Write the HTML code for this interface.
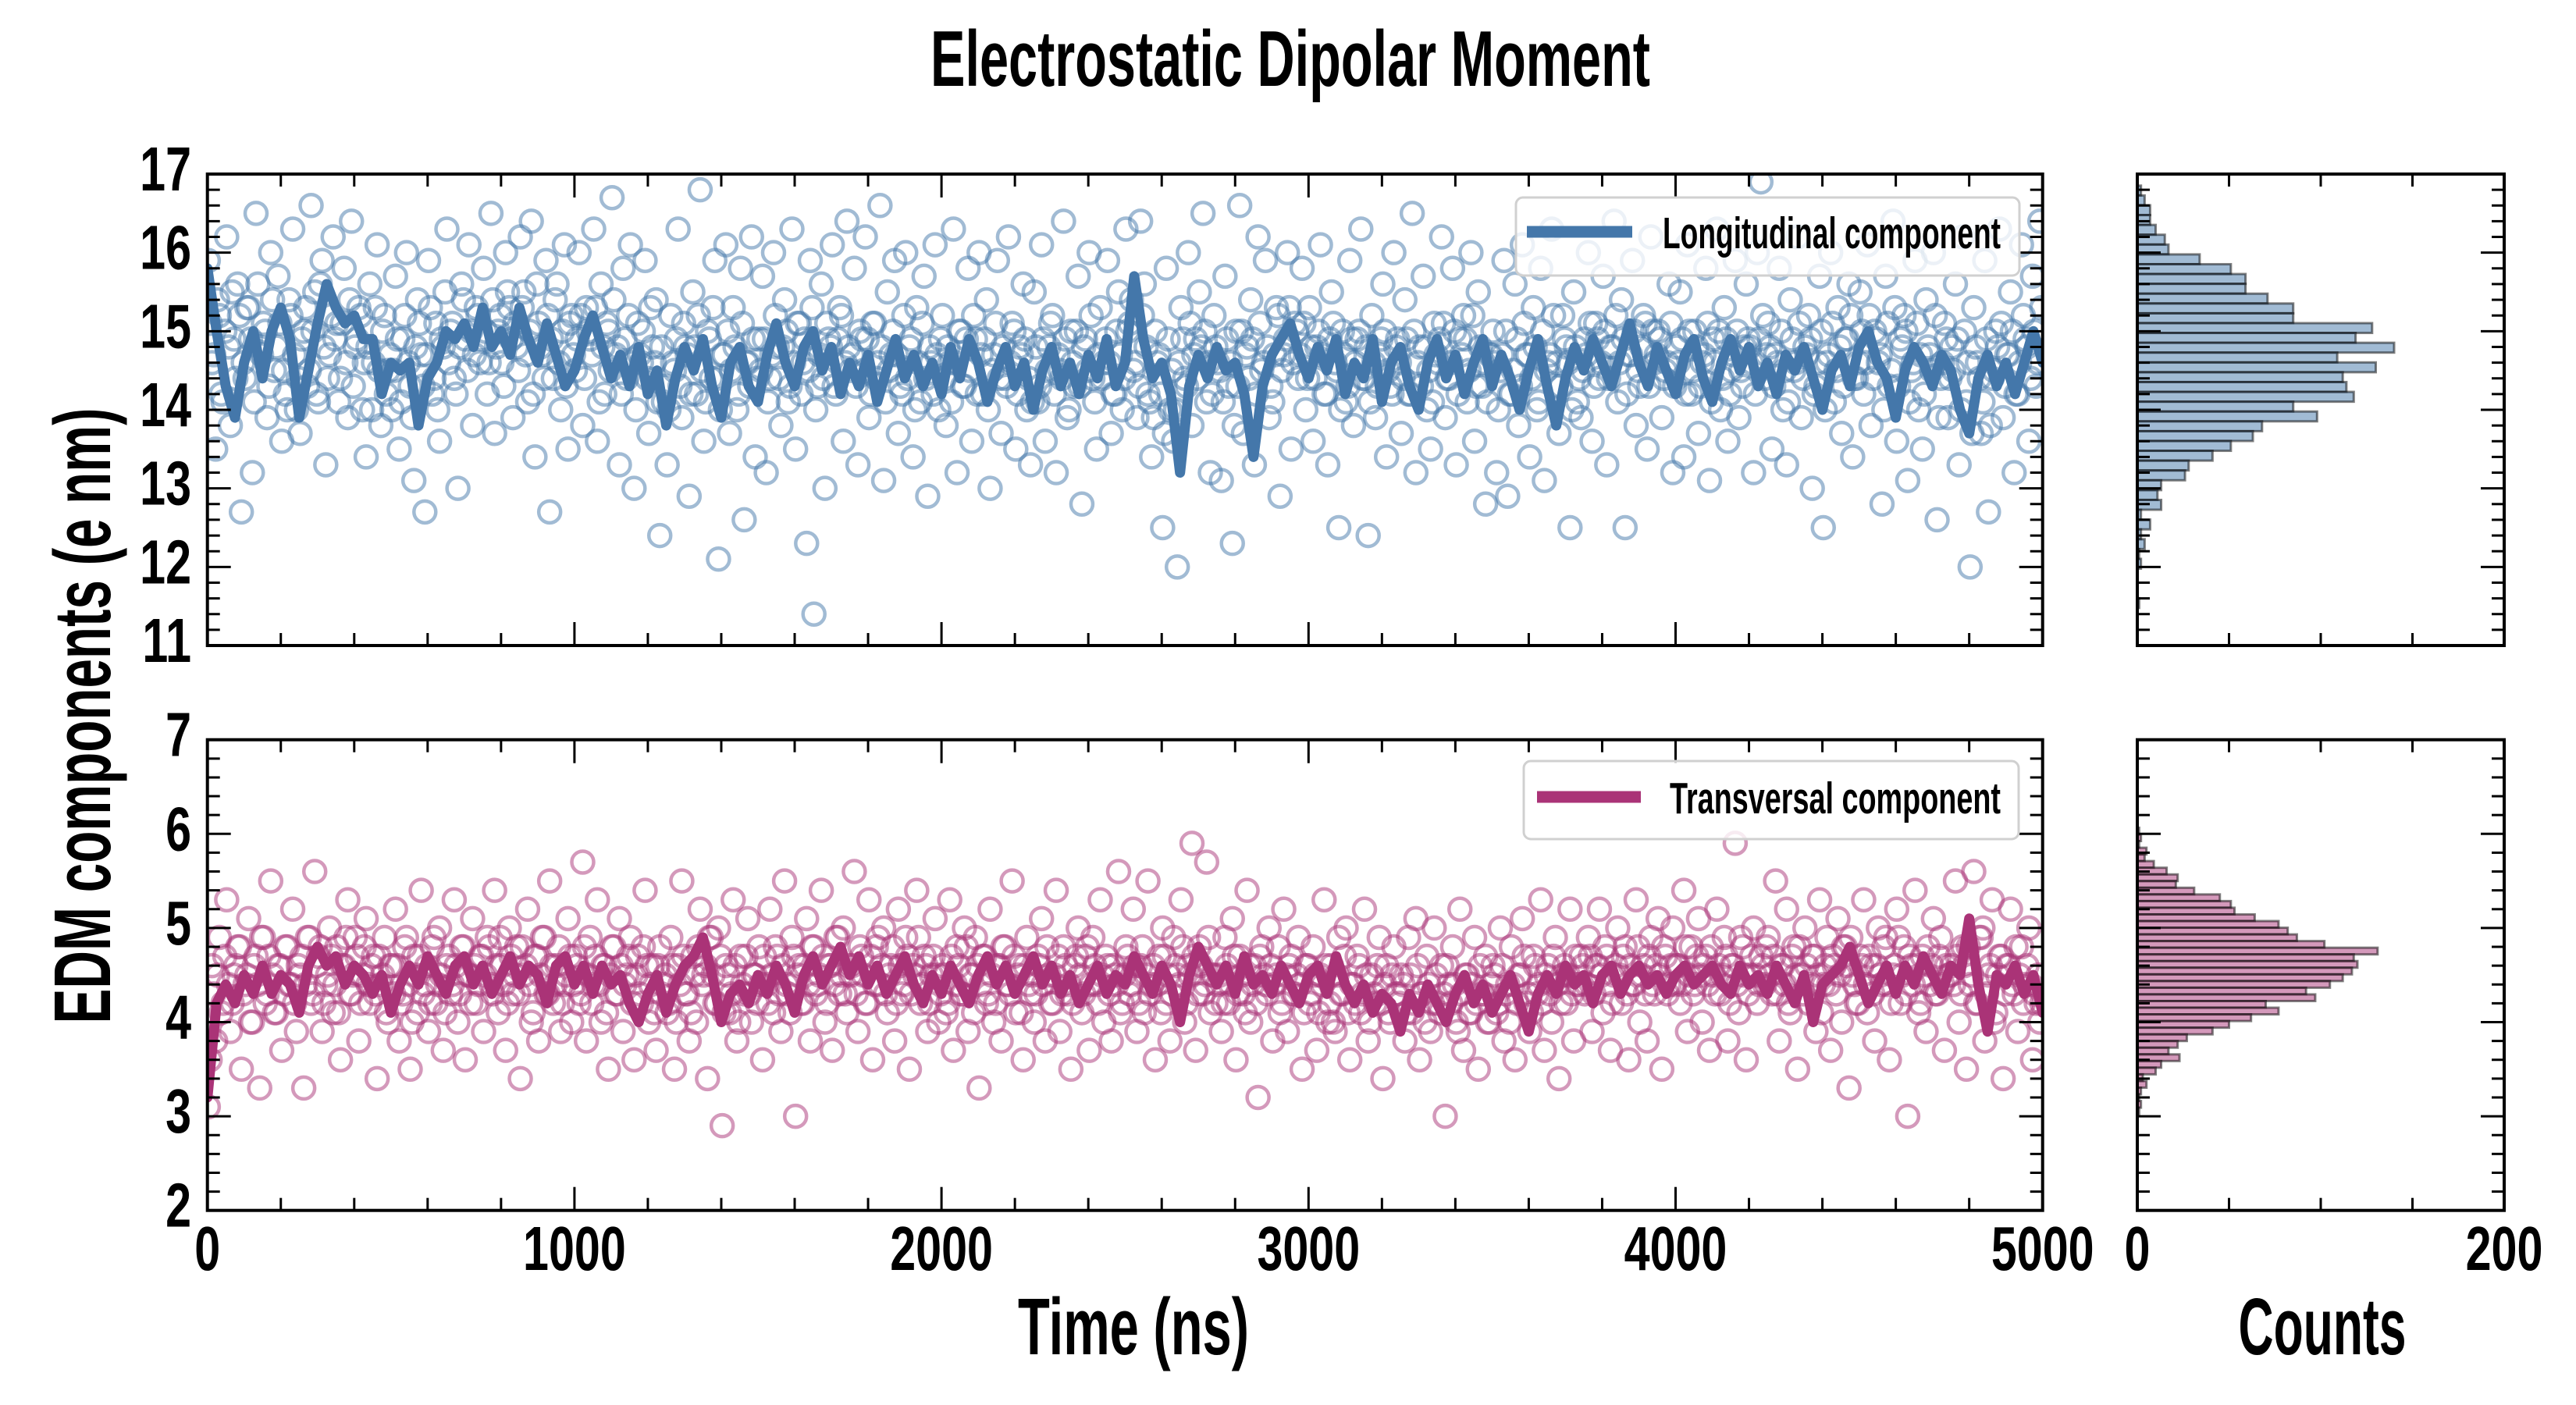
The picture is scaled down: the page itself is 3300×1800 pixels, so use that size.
<!DOCTYPE html>
<html><head><meta charset="utf-8"><title>Electrostatic Dipolar Moment</title>
<style>html,body{margin:0;padding:0;background:#fff;}svg{display:block;}</style>
</head><body>
<svg id="chart" xmlns="http://www.w3.org/2000/svg" width="3300" height="1800" viewBox="0 0 3300 1800">
<defs>
<clipPath id="clipTop"><rect x="265.7" y="223" width="2351" height="604"/></clipPath>
<clipPath id="clipBot"><rect x="265.7" y="947.7" width="2351" height="603"/></clipPath>
</defs>
<rect x="0" y="0" width="3300" height="1800" fill="#fff"/>
<text x="1653" y="110" text-anchor="middle" font-family="'Liberation Sans Narrow','Liberation Sans',sans-serif" font-weight="bold" font-size="101" textLength="922" lengthAdjust="spacingAndGlyphs">Electrostatic Dipolar Moment</text>
<text x="1452" y="1735" text-anchor="middle" font-family="'Liberation Sans Narrow','Liberation Sans',sans-serif" font-weight="bold" font-size="103" textLength="296" lengthAdjust="spacingAndGlyphs">Time (ns)</text>
<text x="2975" y="1735" text-anchor="middle" font-family="'Liberation Sans Narrow','Liberation Sans',sans-serif" font-weight="bold" font-size="103" textLength="215" lengthAdjust="spacingAndGlyphs">Counts</text>
<text transform="translate(141,917) rotate(-90)" text-anchor="middle" font-family="'Liberation Sans Narrow','Liberation Sans',sans-serif" font-weight="bold" font-size="103" textLength="789" lengthAdjust="spacingAndGlyphs">EDM components (e nm)</text>
<g id="layer"></g>
</svg>
<script>
// ---- data ----
const longLine=[15.8,15.0,14.3,13.9,14.6,15.0,14.4,15.0,15.3,14.9,13.9,14.5,15.1,15.6,15.3,15.1,15.2,14.9,14.9,14.2,14.6,14.5,14.6,13.8,14.4,14.6,15.0,14.9,15.1,14.8,15.3,14.8,15.0,14.7,15.3,14.9,14.6,15.1,14.7,14.3,14.5,14.9,15.2,14.8,14.4,14.7,14.3,14.8,14.2,14.5,13.8,14.4,14.8,14.5,14.9,14.3,13.9,14.6,14.8,14.3,14.1,14.7,15.1,14.6,14.3,14.8,15.0,14.5,14.8,14.2,14.6,14.3,14.7,14.1,14.5,14.9,14.4,14.7,14.3,14.6,14.2,14.8,14.4,14.9,14.6,14.1,14.5,14.8,14.3,14.6,14.0,14.5,14.8,14.3,14.6,14.2,14.7,14.4,14.9,14.3,14.6,15.7,14.9,14.4,14.6,14.2,13.2,14.3,14.7,14.4,14.8,14.5,14.6,14.2,13.4,14.3,14.7,14.9,15.1,14.7,14.4,14.8,14.5,14.9,14.2,14.6,14.4,14.9,14.1,14.6,14.8,14.3,14.0,14.6,14.9,14.4,14.7,14.2,14.6,14.9,14.3,14.7,14.4,14.0,14.5,14.9,14.3,13.8,14.4,14.8,14.5,14.9,14.6,14.3,14.7,15.1,14.6,14.3,14.8,14.5,14.2,14.7,14.9,14.4,14.1,14.6,14.9,14.5,14.8,14.3,14.6,14.2,14.7,14.5,14.8,14.4,14.0,14.5,14.7,14.3,14.8,15.0,14.6,14.4,13.9,14.5,14.8,14.6,14.3,14.7,14.5,14.0,13.7,14.4,14.7,14.3,14.6,14.2,14.6,15.0,14.6];
const transLine=[3.2,4.2,4.4,4.2,4.5,4.3,4.6,4.3,4.5,4.4,4.1,4.6,4.8,4.6,4.7,4.4,4.6,4.5,4.3,4.5,4.1,4.4,4.6,4.4,4.7,4.5,4.3,4.6,4.7,4.4,4.6,4.3,4.5,4.7,4.4,4.6,4.5,4.2,4.6,4.7,4.4,4.6,4.3,4.6,4.4,4.5,4.2,4.0,4.3,4.5,4.1,4.4,4.6,4.7,4.9,4.5,4.0,4.3,4.4,4.2,4.5,4.3,4.6,4.4,4.1,4.5,4.7,4.4,4.6,4.8,4.5,4.7,4.4,4.6,4.3,4.5,4.7,4.4,4.2,4.5,4.3,4.6,4.4,4.2,4.5,4.7,4.4,4.6,4.3,4.5,4.7,4.4,4.6,4.3,4.5,4.2,4.4,4.6,4.3,4.5,4.4,4.7,4.5,4.3,4.6,4.4,4.0,4.5,4.8,4.6,4.4,4.6,4.3,4.7,4.4,4.5,4.3,4.6,4.4,4.2,4.5,4.6,4.3,4.7,4.4,4.2,4.4,4.1,4.3,4.2,3.9,4.3,4.1,4.4,4.2,4.0,4.3,4.5,4.2,4.4,4.1,4.3,4.5,4.2,3.9,4.3,4.5,4.3,4.6,4.4,4.5,4.2,4.5,4.6,4.3,4.5,4.6,4.4,4.5,4.3,4.5,4.6,4.4,4.5,4.6,4.4,4.3,4.6,4.4,4.5,4.3,4.6,4.4,4.2,4.5,4.0,4.4,4.5,4.6,4.8,4.5,4.2,4.4,4.6,4.3,4.6,4.4,4.7,4.5,4.3,4.6,4.5,5.1,4.4,3.9,4.5,4.4,4.6,4.3,4.5,4.1];
const longPts=[15.9,14.6,13.5,15.2,14.1,16.2,13.8,14.9,15.6,12.7,14.4,15.3,13.2,16.5,14.8,15.1,13.9,16.0,14.5,15.7,13.6,14.2,15.4,16.3,14.0,
13.7,15.0,14.3,16.6,15.5,14.1,15.9,13.3,14.7,16.2,15.1,14.4,15.8,13.9,16.4,14.8,15.3,14.0,13.4,15.6,14.6,16.1,13.8,15.2,14.5,
14.0,15.7,13.5,14.9,16.0,14.3,13.1,15.4,14.7,12.7,15.9,14.2,15.1,13.6,14.8,16.3,15.0,14.4,13.0,15.6,14.9,16.1,13.8,15.3,14.6,
15.8,14.2,16.5,13.7,15.0,14.6,16.0,15.3,13.9,14.8,16.2,15.5,14.1,16.4,13.4,15.1,14.7,15.9,12.7,14.4,15.6,14.0,16.1,13.5,15.2,
14.5,16.0,13.8,15.3,14.9,16.3,13.6,15.6,14.2,15.0,16.7,14.7,13.3,15.8,14.4,16.1,13.0,15.1,14.6,15.9,13.7,14.8,15.4,12.4,14.1,
13.3,15.2,14.5,16.3,13.9,14.8,12.9,15.5,14.2,16.8,13.6,15.0,14.4,15.9,12.1,14.7,16.1,13.7,15.3,14.0,15.8,12.6,14.6,16.2,13.4,
14.9,15.7,13.2,14.4,16.0,14.8,13.8,15.4,14.1,16.3,13.5,15.1,14.6,12.3,15.9,11.4,14.3,15.6,13.0,14.9,16.1,14.2,15.3,13.6,16.4,
14.5,15.8,13.3,14.9,16.2,13.9,15.1,14.4,16.6,13.1,15.5,14.7,15.9,13.7,14.2,16.0,14.8,13.4,15.3,14.1,15.7,12.9,14.6,16.1,14.0,
15.2,13.8,14.6,16.3,13.2,15.0,14.3,15.8,13.6,14.9,16.0,14.2,15.4,13.0,14.7,15.9,13.7,14.4,16.2,15.1,13.5,14.8,15.6,14.0,13.3,
15.5,14.1,16.1,13.6,14.8,15.2,13.2,14.5,16.4,13.9,15.0,14.3,15.7,12.8,14.9,16.0,14.4,13.5,15.3,14.6,15.9,13.7,14.2,15.5,14.0,
16.3,15.1,14.5,13.9,16.4,15.6,14.2,13.4,15.0,14.7,12.5,15.8,14.0,13.6,12.0,15.3,14.4,16.0,13.8,14.9,15.5,16.5,14.1,13.2,15.2,
14.6,13.1,15.7,14.3,12.3,15.0,16.6,13.7,14.8,15.4,13.3,16.2,14.5,15.9,13.9,14.1,15.3,12.9,14.7,16.0,13.5,15.1,14.4,15.8,14.0,
15.3,13.6,14.8,16.1,14.2,13.3,15.5,14.6,12.5,15.0,14.1,15.9,13.8,14.9,16.3,14.4,12.4,15.2,13.9,14.7,15.6,13.4,14.3,16.0,14.9,
13.7,15.4,14.2,16.5,13.2,14.8,15.7,14.0,13.5,15.1,14.6,16.2,13.9,14.4,15.8,13.3,14.9,15.2,14.1,16.0,13.6,15.5,14.3,12.8,14.7,
15.0,13.2,14.5,15.9,12.9,14.2,15.6,13.8,16.1,14.7,13.4,15.3,14.0,15.8,13.1,14.6,16.3,14.3,13.7,15.2,14.8,12.5,15.5,14.1,13.9,
14.9,16.0,13.6,15.1,14.4,15.7,13.3,14.8,16.4,14.1,15.4,12.5,14.7,15.9,13.8,14.3,15.2,13.5,16.2,14.6,15.0,13.9,14.5,15.6,13.2,
14.8,15.5,13.4,16.1,14.2,15.0,13.7,14.6,15.8,13.1,14.9,16.3,14.0,15.3,13.6,14.5,15.9,13.9,14.3,15.6,14.8,13.2,16.0,16.9,14.4,
15.1,13.5,14.7,15.8,14.0,13.3,15.4,14.5,16.2,13.9,14.8,15.2,13.0,14.3,15.7,12.5,14.6,16.0,14.1,15.3,13.7,14.9,15.6,13.4,14.4,
15.5,14.2,16.1,13.8,15.0,14.6,12.8,15.7,14.3,16.4,13.6,14.9,15.2,13.1,14.5,15.9,14.0,13.5,15.4,14.7,16.0,12.6,14.4,15.1,13.9,
14.8,15.6,13.3,16.2,14.1,12.0,15.3,14.6,13.7,15.9,12.7,14.4,15.0,16.3,13.9,14.7,15.5,13.2,14.2,16.1,14.9,13.6,15.7,14.3,16.4];
const longPts2=[15.1,14.7,15.4,14.2,15.0,14.8,15.5,14.4,15.2,14.6,15.3,14.9,14.1,15.6,14.7,15.0,14.3,15.4,14.8,15.1,14.5,14.0,15.2,14.7,14.4,
14.9,15.3,14.5,15.0,14.2,15.6,14.8,14.4,15.2,14.9,14.1,15.1,14.6,15.4,14.3,14.9,15.2,14.6,14.8,14.0,15.3,14.5,15.0,14.2,14.7,
14.5,14.9,14.1,15.2,14.6,13.9,14.8,15.1,14.3,14.7,15.3,14.4,14.0,14.9,15.5,14.6,15.1,14.2,14.8,15.4,14.5,15.0,14.7,15.2,14.9,
15.0,14.6,15.4,14.8,15.2,14.3,15.5,14.9,15.1,14.5,15.3,14.7,15.0,14.2,15.6,14.8,14.4,15.2,14.9,15.4,14.6,15.0,14.3,15.1,14.7,
14.9,15.2,14.4,15.0,14.7,15.3,14.1,14.8,15.1,14.5,15.4,14.8,14.2,14.9,15.2,14.6,14.0,14.7,15.0,14.4,15.3,14.6,14.1,14.8,14.3,
14.0,14.6,14.9,14.3,15.1,14.7,14.2,14.8,15.2,14.5,14.1,14.9,15.3,14.4,14.0,14.7,15.0,14.5,14.8,14.2,15.1,14.6,14.3,14.9,14.4,
14.5,14.9,14.1,14.7,15.2,14.4,14.8,15.0,14.3,14.6,15.1,14.2,14.9,14.5,15.3,14.0,14.7,14.4,15.1,14.8,14.3,14.9,15.2,14.6,14.8,
14.7,14.3,15.0,14.5,14.9,14.2,15.1,14.6,14.8,14.1,14.5,15.0,14.7,14.3,15.2,14.4,14.9,14.0,14.6,15.1,14.4,14.8,14.2,14.7,14.9,
14.4,14.8,14.1,14.6,15.0,14.3,14.9,14.5,15.2,14.2,14.7,14.9,14.0,14.5,15.1,14.4,14.8,14.3,14.6,15.0,14.2,14.7,14.9,14.4,14.1,
14.8,14.3,14.9,14.5,15.1,14.2,14.7,14.4,14.9,14.0,14.6,15.0,14.3,14.8,14.5,15.2,14.1,14.7,14.4,14.9,14.6,14.2,15.0,14.7,14.4,
15.0,15.4,14.6,14.3,15.2,14.8,14.1,13.9,14.6,14.2,13.7,14.9,14.5,14.0,14.6,14.9,14.3,15.1,14.7,14.4,14.8,15.0,14.6,14.2,14.8,
14.5,14.1,14.9,14.6,13.8,14.3,15.0,14.7,14.4,14.9,14.2,15.1,14.6,14.8,14.3,14.7,15.2,14.5,14.9,15.3,14.6,15.0,14.7,15.1,14.4,
14.8,14.4,15.0,14.7,14.2,14.9,15.1,14.5,14.0,14.7,14.3,14.9,14.6,15.0,14.4,14.8,14.1,14.6,14.3,14.9,15.0,14.5,14.2,14.8,14.6,
14.4,14.9,14.2,15.0,14.6,14.3,14.8,14.5,14.1,14.7,14.9,15.1,14.4,14.6,15.0,14.2,14.7,14.9,14.5,15.2,14.3,14.8,14.6,14.1,14.7,
14.6,14.0,14.7,15.0,14.2,14.5,14.9,14.3,15.1,14.7,14.4,14.8,14.1,15.0,14.5,14.7,15.2,14.6,14.3,14.9,14.6,14.0,14.8,14.4,14.5,
14.7,15.1,14.3,14.9,14.6,15.0,14.4,14.8,15.2,14.6,14.9,14.2,14.7,15.0,14.5,14.8,15.1,14.3,15.0,14.7,14.9,14.4,14.6,15.1,14.3,
14.6,14.9,14.2,15.0,14.5,14.8,14.3,14.7,15.1,14.1,14.6,15.0,14.4,14.9,14.2,14.7,15.0,14.5,14.8,14.9,14.6,14.2,14.9,15.2,14.7,
14.8,14.3,14.6,15.0,14.5,14.1,14.9,14.6,15.1,14.4,14.7,14.9,14.2,14.6,15.0,14.0,14.7,15.1,14.5,14.8,14.3,14.9,15.2,14.4,14.6,
15.0,14.6,15.2,14.4,14.9,14.7,14.0,15.1,14.5,15.3,14.3,14.8,15.0,14.1,14.6,15.1,14.7,14.2,14.8,14.5,15.2,13.9,14.6,14.9,14.4,
14.5,14.9,14.0,15.0,14.6,13.7,14.8,14.4,14.1,14.9,13.8,14.5,14.8,15.1,14.3,14.7,15.0,14.2,14.6,15.2,14.8,14.4,15.0,14.6,15.3];
const transPts=[3.1,4.6,3.8,4.9,4.2,5.3,3.9,4.5,4.8,3.5,4.4,5.1,4.0,4.7,3.3,4.9,4.3,5.5,4.1,4.6,3.7,4.8,4.4,5.2,3.9,
4.5,3.3,4.9,4.2,5.6,4.7,3.9,4.4,5.0,4.1,4.8,3.6,4.6,5.3,4.3,4.9,3.8,4.5,5.1,4.2,4.7,3.4,4.4,4.9,4.0,
4.6,5.2,3.8,4.3,4.9,3.5,4.7,4.1,5.4,4.4,3.9,4.8,4.2,5.0,3.7,4.6,4.3,5.3,4.0,4.8,3.6,4.5,5.1,4.2,4.7,
3.9,4.9,4.4,5.4,4.1,4.6,3.7,5.0,4.3,4.8,3.4,4.5,5.2,4.0,4.7,3.8,4.9,4.3,5.5,4.2,4.6,3.9,4.4,5.1,4.0,
4.7,4.2,5.7,3.8,4.9,4.4,5.3,4.0,4.6,3.5,4.8,4.3,5.1,3.9,4.5,4.9,3.6,4.7,4.2,5.4,4.0,4.6,3.7,4.8,4.4,
4.1,4.9,3.5,4.6,5.5,4.3,3.8,4.7,4.0,5.2,4.5,3.4,4.9,4.2,5.0,2.9,4.6,4.1,5.3,3.8,4.7,4.3,5.1,4.0,4.5,
4.8,3.6,4.4,5.2,4.1,4.7,3.9,5.5,4.3,4.9,3.0,4.6,4.2,5.1,3.8,4.8,4.4,5.4,4.0,4.6,3.7,4.9,4.3,5.0,4.1,
4.5,5.6,3.9,4.7,4.2,5.3,3.6,4.8,4.4,5.0,4.1,4.6,3.8,5.2,4.3,4.9,3.5,4.6,5.4,4.2,4.7,3.9,4.5,5.1,4.0,
4.6,4.1,5.3,3.7,4.8,4.3,5.0,3.9,4.5,4.9,3.3,4.7,4.2,5.2,4.0,4.6,3.8,4.8,4.4,5.5,4.1,4.6,3.6,4.9,4.3,
4.0,4.7,5.1,3.8,4.5,4.2,5.4,3.9,4.8,4.3,3.5,4.6,5.0,4.1,4.7,3.7,4.9,4.4,5.3,4.0,4.6,3.8,4.5,5.6,4.2,
4.8,4.3,5.2,3.9,4.6,4.1,5.5,4.4,3.6,4.7,5.0,4.2,3.8,4.9,4.5,5.3,4.0,4.6,5.9,3.7,4.8,4.3,5.7,4.1,4.5,
4.4,3.9,4.9,4.2,5.1,3.6,4.7,4.3,5.4,4.0,4.6,3.2,4.8,4.4,5.0,3.8,4.5,4.1,5.2,3.9,4.7,4.3,4.9,3.5,4.6,
4.2,4.8,3.7,4.5,5.3,4.0,4.6,3.9,4.9,4.3,5.0,3.6,4.4,4.7,4.1,5.2,3.8,4.5,4.2,4.9,3.4,4.6,4.0,4.8,4.3,
4.5,3.8,4.9,4.1,5.1,3.6,4.3,4.7,3.9,5.0,4.2,4.6,3.0,4.4,4.8,4.0,5.2,3.7,4.5,4.1,4.9,3.5,4.3,4.7,4.0,
4.6,4.1,5.0,3.8,4.4,4.8,3.6,4.5,5.1,4.2,3.9,4.7,4.3,5.3,3.7,4.6,4.0,4.9,3.4,4.5,4.2,5.2,3.8,4.4,4.7,
4.3,4.9,3.9,4.6,5.2,4.1,4.7,3.7,4.5,5.0,4.2,4.8,3.6,4.4,5.3,4.0,4.6,3.8,4.9,4.3,5.1,3.5,4.7,4.4,5.0,
4.6,4.2,5.4,3.9,4.8,4.4,5.1,4.0,4.7,3.7,4.5,5.2,4.3,4.9,3.8,4.6,5.9,4.1,4.8,3.6,4.5,5.0,4.2,4.7,4.4,
4.9,4.3,5.5,3.8,4.6,5.2,4.1,4.8,3.5,4.5,5.0,4.2,4.7,3.9,5.3,4.4,4.9,3.7,4.6,5.1,4.0,4.8,3.3,4.5,4.2,
4.7,5.3,4.1,4.6,3.8,5.0,4.4,4.9,3.6,4.5,5.2,4.2,4.8,3.0,4.6,5.4,4.1,4.7,3.9,4.4,5.1,4.3,4.9,3.7,4.5,
4.6,5.5,4.0,4.8,3.5,4.4,5.6,4.2,4.9,3.8,4.5,5.3,4.1,4.7,3.4,4.6,5.2,4.3,3.9,4.8,4.4,5.0,3.6,4.2,4.0];
const transPts2=[3.6,4.3,4.5,4.1,4.7,4.4,4.2,4.6,4.8,4.3,4.5,4.0,4.6,4.4,4.9,4.2,4.7,4.5,4.1,4.6,4.3,4.8,4.4,4.2,4.6,
4.7,4.4,4.9,4.3,4.6,4.8,4.2,4.5,4.7,4.4,4.1,4.6,4.9,4.3,4.5,4.7,4.2,4.8,4.4,4.6,4.3,4.7,4.5,4.1,4.6,
4.3,4.6,4.2,4.8,4.4,4.0,4.5,4.7,4.3,4.6,4.2,4.9,4.4,4.5,4.1,4.7,4.4,4.6,4.3,4.8,4.5,4.2,4.6,4.4,4.7,
4.5,4.8,4.3,4.6,4.9,4.4,4.2,4.7,4.5,4.3,4.8,4.6,4.4,4.1,4.7,4.5,4.9,4.3,4.6,4.4,4.8,4.2,4.5,4.7,4.4,
4.6,4.3,4.8,4.5,4.2,4.7,4.4,4.6,4.1,4.5,4.8,4.3,4.6,4.4,4.7,4.2,4.5,4.3,4.8,4.6,4.4,4.1,4.6,4.3,4.5,
4.2,4.6,4.0,4.4,4.7,4.3,4.1,4.5,4.8,4.4,4.6,4.9,4.5,4.2,4.7,4.1,4.5,4.3,4.6,4.0,4.4,4.7,4.3,4.5,4.2,
4.4,4.7,4.2,4.5,4.8,4.3,4.6,4.4,4.1,4.7,4.5,4.2,4.6,4.4,4.8,4.3,4.5,4.7,4.2,4.6,4.4,4.9,4.5,4.3,4.6,
4.6,4.3,4.8,4.5,4.2,4.7,4.4,4.9,4.6,4.3,4.5,4.8,4.2,4.6,4.4,4.7,4.3,4.5,4.9,4.4,4.6,4.2,4.7,4.5,4.3,
4.5,4.2,4.7,4.4,4.6,4.3,4.8,4.5,4.1,4.6,4.4,4.7,4.3,4.5,4.2,4.6,4.8,4.4,4.3,4.7,4.5,4.1,4.6,4.4,4.5,
4.3,4.6,4.4,4.8,4.2,4.5,4.7,4.3,4.6,4.4,4.2,4.7,4.5,4.3,4.8,4.4,4.6,4.2,4.5,4.7,4.3,4.6,4.4,4.1,4.5,
4.7,4.4,4.6,4.2,4.8,4.5,4.3,4.6,4.4,4.1,4.7,4.5,4.3,4.6,4.4,4.8,4.2,4.5,4.7,4.3,4.6,4.4,4.9,4.5,4.2,
4.5,4.2,4.6,4.4,4.7,4.3,4.5,4.1,4.6,4.4,4.2,4.7,4.5,4.3,4.6,4.4,4.8,4.2,4.5,4.6,4.3,4.5,4.4,4.1,4.6,
4.3,4.5,4.1,4.4,4.6,4.2,4.0,4.5,4.3,4.7,4.1,4.4,4.2,4.6,4.3,4.5,4.0,4.3,4.6,4.2,4.4,4.1,4.5,4.3,4.2,
4.4,4.1,4.5,4.2,4.6,4.3,4.0,4.4,4.2,4.5,4.1,4.3,4.6,4.2,4.4,3.9,4.3,4.5,4.1,4.4,4.2,4.6,4.3,4.0,4.4,
4.5,4.2,4.6,4.3,4.0,4.4,4.2,4.5,4.7,4.3,4.1,4.6,4.4,4.2,4.5,4.3,4.7,4.4,4.2,4.6,4.5,4.3,4.7,4.4,4.6,
4.4,4.7,4.3,4.6,4.5,4.8,4.4,4.2,4.6,4.5,4.7,4.3,4.6,4.4,4.8,4.5,4.3,4.7,4.4,4.6,4.5,4.8,4.3,4.6,4.4,
4.6,4.4,4.8,4.5,4.3,4.7,4.5,4.6,4.4,4.8,4.3,4.6,4.5,4.7,4.2,4.6,4.4,4.9,4.5,4.3,4.7,4.5,4.4,4.6,4.8,
4.5,4.7,4.3,4.6,4.4,4.2,4.7,4.5,4.8,4.3,4.6,4.4,4.7,4.5,4.1,4.6,4.4,4.7,4.3,4.5,4.8,4.6,4.9,4.4,4.2,
4.6,4.4,4.7,4.3,4.6,4.5,4.8,4.4,4.2,4.6,4.9,4.5,4.3,4.7,4.4,4.6,4.2,4.5,4.8,4.6,4.3,4.7,4.4,4.6,4.5,
4.4,4.7,4.3,4.6,4.8,4.5,4.2,4.9,5.0,4.3,4.6,4.0,4.5,4.7,4.3,4.6,4.4,4.8,4.5,4.2,4.6,4.4,4.3,4.5,4.2];
const longHist=[2,4,7,7,10,15,17,34,51,59,59,71,85,85,128,119,140,109,130,112,114,118,85,98,68,63,51,41,28,26,13,11,13,2,7,2,4,1,2,0,0,0,1];
const transHist=[1,2,1,5,4,9,16,22,21,31,45,51,53,64,77,82,87,102,131,118,120,117,112,105,92,97,70,77,62,50,41,27,22,17,23,13,10,3,5,2,1,2,1];
const longHistTop=16.853, longBinW=0.125;
const transHistTop=6.065, transBinW=0.0708;
const timeMax=5000;
const xTickLabels=["0","1000","2000","3000","4000","5000"];
const topYTicks=["11","12","13","14","15","16","17"];
const botYTicks=["2","3","4","5","6","7"];
const histTickLabels=["0","200"];

// ---- layout ----
const NS="http://www.w3.org/2000/svg";
const FONT="'Liberation Sans Narrow','Liberation Sans',sans-serif";
const AX={x0:265.7,x1:2616.7};
const HX={x0:2738,x1:3208,max:200};
const P={top:{y0:223,y1:827,lo:11,hi:17},bot:{y0:947.7,y1:1550.7,lo:2,hi:7}};
const layer=document.getElementById('layer');
function mk(tag,attrs,parent){const e=document.createElementNS(NS,tag);for(const k in attrs)e.setAttribute(k,attrs[k]);(parent||layer).appendChild(e);return e;}
const xT=t=>AX.x0+(t/timeMax)*(AX.x1-AX.x0);
const yV=(p,v)=>p.y1-(v-p.lo)/(p.hi-p.lo)*(p.y1-p.y0);
const xC=c=>HX.x0+c/HX.max*(HX.x1-HX.x0);

function drawPts(g,p,pts,off,color,name){
  const step=timeMax/pts.length;
  pts.forEach((v,i)=>{
    const c=mk('circle',{cx:xT(step*(i+off)),cy:yV(p,v),r:14,fill:'none',stroke:color,'stroke-width':4.5,'stroke-opacity':0.5},g);
    
    
  });
}
function drawSeries(p,pts,pts2,line,color,clip,name){
  const g=mk('g',{'clip-path':'url(#'+clip+')'});
  
  
  drawPts(g,p,pts,0.25,color,name);
  drawPts(g,p,pts2,0.75,color,name);
  const ls=timeMax/(line.length-1);
  const d=line.map((v,i)=>(i?'L':'M')+xT(ls*i).toFixed(1)+','+yV(p,v).toFixed(1)).join('');
  const pl=mk('path',{d:d,fill:'none',stroke:color,'stroke-width':13,'stroke-linejoin':'round','stroke-linecap':'round'},g);
  
  
}
drawSeries(P.top,longPts,longPts2,longLine,'#4477aa','clipTop','longitudinal');
drawSeries(P.bot,transPts,transPts2,transLine,'#aa3377','clipBot','transversal');

function drawHist(p,counts,top,bw,fill,name){
  counts.forEach((c,i)=>{
    const ya=yV(p,top-bw*i), yb=yV(p,top-bw*(i+1));
    const r=mk('rect',{x:HX.x0,y:ya,width:Math.max(0,xC(c)-HX.x0),height:yb-ya,fill:fill,'fill-opacity':0.5,stroke:'#000','stroke-opacity':0.5,'stroke-width':3});
    
    
  });
}
drawHist(P.top,longHist,longHistTop,longBinW,'#4477aa','longitudinal');
drawHist(P.bot,transHist,transHistTop,transBinW,'#aa3377','transversal');

function tick(x1,y1,x2,y2,name){const l=mk('line',{x1:x1,y1:y1,x2:x2,y2:y2,stroke:'#000','stroke-width':3});
  
  }
function label(txt,x,y,anchor,name){const t=mk('text',{transform:'translate('+x+','+y+') scale(0.74,1)','text-anchor':anchor,'font-family':FONT,'font-weight':'bold','font-size':80});
  t.textContent=txt;
  
  }

function frame(x0,x1,p,name){
  const r=mk('rect',{x:x0,y:p.y0,width:x1-x0,height:p.y1-p.y0,fill:'none',stroke:'#000','stroke-width':4});
  
  
}
function yTicks(x0,x1,p,name){
  for(let v=p.lo;v<=p.hi+1e-6;v+=0.2){
    const major=Math.abs(v-Math.round(v))<1e-6, L=major?30:16, y=yV(p,v);
    tick(x0,y,x0+L,y,name+'-y-tick');
    tick(x1,y,x1-L,y,name+'-y-tick-right');
  }
}
['top','bot'].forEach(k=>{
  const p=P[k];
  for(let t=0;t<=timeMax;t+=200){
    const L=(t%1000===0)?30:16,x=xT(t);
    tick(x,p.y1,x,p.y1-L,k+'-x-tick');
    tick(x,p.y0,x,p.y0+L,k+'-x-tick-top');
  }
  yTicks(AX.x0,AX.x1,p,k);
  for(let c=0;c<=HX.max;c+=50){
    const x=xC(c);
    tick(x,p.y1,x,p.y1-16,k+'-hist-x-tick');
    tick(x,p.y0,x,p.y0+16,k+'-hist-x-tick-top');
  }
  yTicks(HX.x0,HX.x1,p,k+'-hist');
  frame(AX.x0,AX.x1,p,k+'-axes');
  frame(HX.x0,HX.x1,p,k+'-hist-axes');
});
topYTicks.forEach(s=>label(s,245,yV(P.top,+s)+21,'end','top-y-tick-label'));
botYTicks.forEach(s=>label(s,245,yV(P.bot,+s)+21,'end','bottom-y-tick-label'));
xTickLabels.forEach(s=>label(s,xT(+s),1627,'middle','x-tick-label'));
histTickLabels.forEach(s=>label(s,xC(+s),1627,'middle','hist-x-tick-label'));

function legend(bx,by,bw,bh,lx0,lx1,ly,tx,tl,txt,color,name){
  const g=mk('g',{});
  
  
  const r=mk('rect',{x:bx,y:by,width:bw,height:bh,rx:9,fill:'#fff','fill-opacity':0.8,stroke:'#d0d0d0','stroke-width':3},g);
  
  
  const l=mk('line',{x1:lx0,y1:ly,x2:lx1,y2:ly,stroke:color,'stroke-width':15},g);
  
  
  const t=mk('text',{x:tx,y:ly+21,'font-family':FONT,'font-weight':'bold','font-size':57,textLength:tl,lengthAdjust:'spacingAndGlyphs'},g);
  t.textContent=txt;
  
  
}
legend(1942,253,645,100,1956,2091,297,2130,433,'Longitudinal component','#4477aa','longitudinal');
legend(1952,975,634,100,1969,2102,1021,2139,424,'Transversal component','#aa3377','transversal');
</script>
</body></html>
